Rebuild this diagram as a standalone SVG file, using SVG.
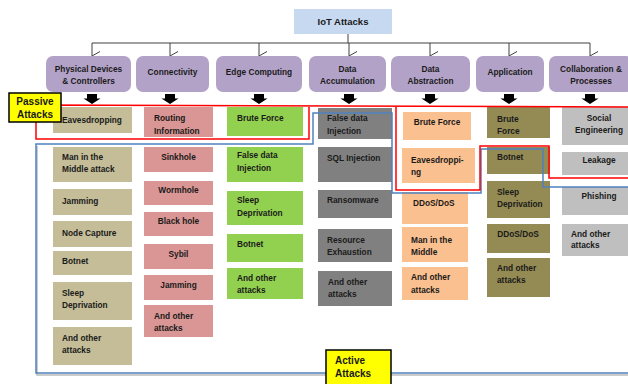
<svg xmlns="http://www.w3.org/2000/svg" width="628" height="384" viewBox="0 0 628 384">
<style>
text{font-family:"Liberation Sans",Arial,sans-serif;font-weight:bold;font-size:8.3px;fill:#1a1a1a}
.c{text-anchor:middle}
.cat{fill:#b3a2c7}
.t1{fill:#c4bd97}.t2{fill:#d99694}.t3{fill:#92d050}.t4{fill:#808080}.t5{fill:#fac090}.t6{fill:#948a54}.t7{fill:#bfbfbf}
.ln{stroke:#404040;stroke-width:1;fill:none}
.red{stroke:#ff0000;stroke-width:1.5;fill:none}
.blue{stroke:#4f81bd;stroke-width:1.5;fill:none}
.sh{stroke:#bbbbbb;stroke-width:1.5;fill:none}
.lab{fill:#ffff00;stroke:#000;stroke-width:1.5}
.lt{font-size:10px}
</style>
<defs>
<marker id="v" markerWidth="10" markerHeight="10" refX="5" refY="9" orient="auto" markerUnits="userSpaceOnUse" viewBox="0 0 10 10">
<path d="M0.5,1 L5,9 L9.5,1" fill="none" stroke="#404040" stroke-width="1"/>
</marker>
<path id="ba" d="M-5,0 H5 V4.5 H8.5 L0,10 L-8.5,4.5 H-5 Z" fill="#000"/>
</defs>
<rect width="628" height="384" fill="#fff"/>

<g id="connectors">
<path class="ln" d="M348,34 V43"/>
<path class="ln" d="M92,43 H590"/>
<path class="ln" marker-end="url(#v)" d="M92,43 V56"/>
<path class="ln" marker-end="url(#v)" d="M170,43 V56"/>
<path class="ln" marker-end="url(#v)" d="M259,43 V56"/>
<path class="ln" marker-end="url(#v)" d="M349,43 V56"/>
<path class="ln" marker-end="url(#v)" d="M430,43 V56"/>
<path class="ln" marker-end="url(#v)" d="M509,43 V56"/>
<path class="ln" marker-end="url(#v)" d="M590,43 V56"/>
<use href="#ba" x="92" y="94"/>
<use href="#ba" x="170" y="94"/>
<use href="#ba" x="259" y="94"/>
<use href="#ba" x="349" y="94"/>
<use href="#ba" x="430" y="94"/>
<use href="#ba" x="509" y="94"/>
<use href="#ba" x="590" y="94"/>
</g>

<g id="root"><rect x="294" y="9" width="98" height="25" fill="#c6d9f1"/><text x="343" y="25" class="c" style="font-size:9.5px">IoT Attacks</text></g>

<g id="cat-physical"><rect class="cat" x="46" y="56" width="85" height="36" rx="7"/><text class="c" x="88.5" y="72">Physical Devices</text><text class="c" x="88.5" y="84">&amp; Controllers</text></g>
<g id="cat-connectivity"><rect class="cat" x="136" y="56" width="73" height="36" rx="7"/><text class="c" x="172.5" y="75">Connectivity</text></g>
<g id="cat-edge"><rect class="cat" x="216" y="56" width="86" height="36" rx="7"/><text class="c" x="259" y="75">Edge Computing</text></g>
<g id="cat-accum"><rect class="cat" x="309" y="56" width="77" height="36" rx="7"/><text class="c" x="347.5" y="72">Data</text><text class="c" x="347.5" y="84">Accumulation</text></g>
<g id="cat-abstr"><rect class="cat" x="391" y="56" width="79" height="36" rx="7"/><text class="c" x="430.5" y="72">Data</text><text class="c" x="430.5" y="84">Abstraction</text></g>
<g id="cat-app"><rect class="cat" x="476" y="56" width="68" height="36" rx="7"/><text class="c" x="510" y="75">Application</text></g>
<g id="cat-collab"><rect class="cat" x="549" y="56" width="84" height="36" rx="7"/><text class="c" x="591" y="72">Collaboration &amp;</text><text class="c" x="591" y="84">Processes</text></g>

<!-- column 1 -->
<g id="p1"><rect class="t1" x="53" y="107" width="79" height="26"/><text x="62" y="123">Eavesdropping</text></g>
<g id="p2"><rect class="t1" x="53" y="147" width="79" height="35"/><text x="62" y="160">Man in the</text><text x="62" y="172">Middle attack</text></g>
<g id="p3"><rect class="t1" x="53" y="189" width="79" height="26"/><text x="62" y="204">Jamming</text></g>
<g id="p4"><rect class="t1" x="53" y="221" width="79" height="26"/><text x="62" y="236">Node Capture</text></g>
<g id="p5"><rect class="t1" x="53" y="251" width="79" height="24"/><text x="62" y="264">Botnet</text></g>
<g id="p6"><rect class="t1" x="53" y="282" width="79" height="38"/><text x="62" y="296">Sleep</text><text x="62" y="308">Deprivation</text></g>
<g id="p7"><rect class="t1" x="53" y="327" width="79" height="38"/><text x="62" y="341">And other</text><text x="62" y="353">attacks</text></g>

<!-- column 2 -->
<g id="c1"><rect class="t2" x="144" y="107" width="69" height="30"/><text x="154" y="121">Routing</text><text x="154" y="134">Information</text></g>
<g id="c2"><rect class="t2" x="144" y="147" width="69" height="25"/><text class="c" x="178.5" y="160">Sinkhole</text></g>
<g id="c3"><rect class="t2" x="144" y="181" width="69" height="24"/><text class="c" x="178.5" y="193">Wormhole</text></g>
<g id="c4"><rect class="t2" x="144" y="212" width="69" height="24"/><text class="c" x="178.5" y="224">Black hole</text></g>
<g id="c5"><rect class="t2" x="144" y="244" width="69" height="25"/><text class="c" x="178.5" y="257">Sybil</text></g>
<g id="c6"><rect class="t2" x="144" y="275" width="69" height="25"/><text class="c" x="178.5" y="288">Jamming</text></g>
<g id="c7"><rect class="t2" x="144" y="305" width="69" height="32"/><text x="154" y="319">And other</text><text x="154" y="331">attacks</text></g>

<!-- column 3 -->
<g id="e1"><rect class="t3" x="227" y="107" width="76" height="29"/><text x="237" y="121">Brute Force</text></g>
<g id="e2"><rect class="t3" x="227" y="147" width="76" height="35"/><text x="237" y="158">False data</text><text x="237" y="171">Injection</text></g>
<g id="e3"><rect class="t3" x="227" y="191" width="76" height="34"/><text x="237" y="203">Sleep</text><text x="237" y="216">Deprivation</text></g>
<g id="e4"><rect class="t3" x="227" y="234" width="76" height="28"/><text x="237" y="247">Botnet</text></g>
<g id="e5"><rect class="t3" x="227" y="268" width="76" height="31"/><text x="237" y="281">And other</text><text x="237" y="293">attacks</text></g>

<!-- column 4 -->
<g id="a1"><rect class="t4" x="318" y="108" width="74" height="31"/><text x="327" y="121">False data</text><text x="327" y="134">Injection</text></g>
<g id="a2"><rect class="t4" x="318" y="147" width="74" height="35"/><text x="327" y="161">SQL Injection</text></g>
<g id="a3"><rect class="t4" x="318" y="190" width="74" height="28"/><text x="327" y="203">Ransomware</text></g>
<g id="a4"><rect class="t4" x="318" y="229" width="74" height="33"/><text x="327" y="243">Resource</text><text x="327" y="255">Exhaustion</text></g>
<g id="a5"><rect class="t4" x="318" y="271" width="74" height="35"/><text x="328" y="285">And other</text><text x="328" y="297">attacks</text></g>

<!-- column 5 -->
<g id="b1"><rect class="t5" x="403" y="112" width="68" height="28"/><text class="c" x="437" y="125">Brute Force</text></g>
<g id="b2"><rect class="t5" x="402" y="148" width="73" height="35"/><text x="411" y="163">Eavesdroppi-</text><text x="411" y="175">ng</text></g>
<g id="b3"><rect class="t5" x="402" y="192" width="66" height="32"/><text x="413" y="206">DDoS/DoS</text></g>
<g id="b4"><rect class="t5" x="402" y="227" width="66" height="35"/><text x="411" y="243">Man in the</text><text x="411" y="255">Middle</text></g>
<g id="b5"><rect class="t5" x="402" y="267" width="66" height="33"/><text x="411" y="280">And other</text><text x="411" y="293">attacks</text></g>

<!-- column 6 -->
<g id="ap1"><rect class="t6" x="487" y="107" width="63" height="31"/><text x="497" y="122">Brute</text><text x="497" y="134">Force</text></g>
<g id="ap2"><rect class="t6" x="487" y="147" width="63" height="27"/><text x="497" y="160">Botnet</text></g>
<g id="ap3"><rect class="t6" x="487" y="181" width="63" height="37"/><text x="497" y="195">Sleep</text><text x="497" y="207">Deprivation</text></g>
<g id="ap4"><rect class="t6" x="487" y="224" width="63" height="29"/><text class="c" x="518" y="237">DDoS/DoS</text></g>
<g id="ap5"><rect class="t6" x="487" y="258" width="63" height="39"/><text x="497" y="271">And other</text><text x="497" y="283">attacks</text></g>

<!-- column 7 -->
<g id="s1"><rect class="t7" x="562" y="107" width="70" height="38"/><text class="c" x="599" y="121">Social</text><text class="c" x="599" y="133">Engineering</text></g>
<g id="s2"><rect class="t7" x="562" y="152" width="70" height="23"/><text class="c" x="599" y="163">Leakage</text></g>
<g id="s3"><rect class="t7" x="562" y="187" width="70" height="28"/><text class="c" x="599" y="199">Phishing</text></g>
<g id="s4"><rect class="t7" x="562" y="224" width="70" height="32"/><text x="571" y="237">And other</text><text x="571" y="248">attacks</text></g>

<g id="regions">
<path class="sh" d="M37,146 V375 H628"/>
<path class="blue" d="M628,187 H543 V149 H481 V193 H392 V113 H313 V144 H36 V373 H628"/>
<path class="red" d="M36,105 L628,107 M628,178 H549 V146 H480 V190 H396 V107 M309,107 V139 H36 V105"/>
</g>

<g id="passive-label"><rect class="lab" x="9" y="93" width="52" height="29"/><text class="c lt" x="35" y="105">Passive</text><text class="c lt" x="35" y="118">Attacks</text></g>
<g id="active-label"><rect class="lab" x="326" y="350" width="65" height="40"/><text class="lt" x="335" y="364">Active</text><text class="lt" x="335" y="377">Attacks</text></g>
</svg>
